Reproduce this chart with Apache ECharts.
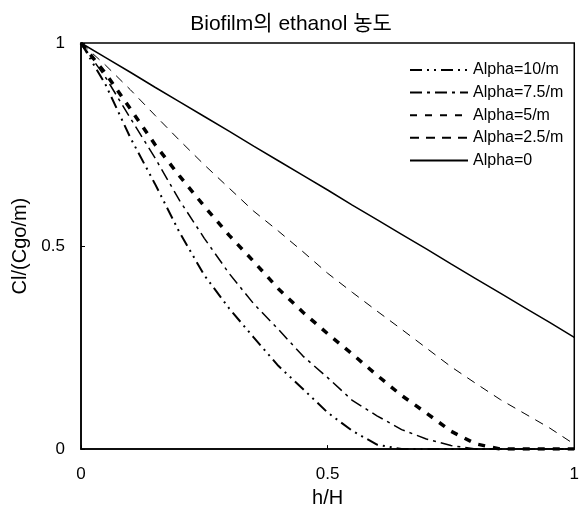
<!DOCTYPE html>
<html lang="ko">
<head>
    <meta charset="utf-8"/>
    <title>Biofilm의 ethanol 농도</title>
    <script src="https://cdn.jsdelivr.net/npm/echarts@6/dist/echarts.min.js"></script>
    <style>
        html, body { margin: 0; padding: 0; background: #fff; }
        #chart { width: 582px; height: 513px; }
    </style>
</head>
<body>
<div id="chart"></div>
<script>
    // 데이터 (h/H 위치별 Cl/(Cgo/m))
    var hValues = [0, 0.05, 0.1, 0.15, 0.2, 0.25, 0.3, 0.35, 0.4, 0.45, 0.5,
                   0.55, 0.6, 0.65, 0.7, 0.75, 0.8, 0.85, 0.9, 0.95, 1];
    var alpha10 = [1, 0.897, 0.767, 0.653, 0.533, 0.428, 0.347, 0.275, 0.205, 0.148, 0.090,
                   0.045, 0.011, 0, 0, 0, 0, 0, 0, 0, 0];
    var alpha75 = [1, 0.915, 0.815, 0.717, 0.612, 0.519, 0.433, 0.358, 0.295, 0.229, 0.176,
                   0.120, 0.082, 0.048, 0.025, 0.009, 0, 0, 0, 0, 0];
    var alpha5  = [1, 0.925, 0.838, 0.750, 0.672, 0.598, 0.527, 0.462, 0.395, 0.337, 0.284,
                   0.234, 0.182, 0.132, 0.089, 0.044, 0.013, 0, 0, 0, 0];
    var alpha25 = [1, 0.945, 0.885, 0.822, 0.760, 0.700, 0.643, 0.586, 0.537, 0.486, 0.433,
                   0.386, 0.340, 0.295, 0.249, 0.203, 0.162, 0.122, 0.087, 0.052, 0.012];
    var alpha0  = [1, 0.964, 0.928, 0.891, 0.855, 0.819, 0.783, 0.746, 0.710, 0.674, 0.638,
                   0.601, 0.565, 0.529, 0.493, 0.456, 0.420, 0.384, 0.348, 0.312, 0.275];
    var seriesNames = ['Alpha=10/m', 'Alpha=7.5/m', 'Alpha=5/m', 'Alpha=2.5/m', 'Alpha=0'];
    var tickLabels = ['0', '0.5', '1'];

    var font = "'Liberation Sans', 'Noto Sans CJK KR', sans-serif";

    var pairs = function (ys) {
        var out = [];
        for (var i = 0; i < hValues.length; i++) {
            out.push([hValues[i], ys[i]]);
        }
        return out;
    };

    var makeSeries = function (name, ys, width, dash) {
        return {
            name: name,
            type: 'line',
            data: pairs(ys),
            symbol: 'none',
            color: '#000',
            itemStyle: { color: '#000' },
            lineStyle: { color: '#000', width: width, type: dash }
        };
    };

    var tickText = function (v) {
        if (Math.abs(v) < 1e-9) return tickLabels[0];
        if (Math.abs(v - 0.5) < 1e-9) return tickLabels[1];
        return tickLabels[2];
    };

    var chart = echarts.init(document.getElementById('chart'));
    var option = {
        backgroundColor: '#fff',
        animation: false,
        title: {
            text: 'Biofilm의 ethanol 농도',
            left: 'center',
            top: 9,
            textStyle: { fontFamily: font, fontSize: 21, fontWeight: 'normal', color: '#000' }
        },
        legend: {
            orient: 'vertical',
            left: 404,
            top: 57,
            itemWidth: 58,
            itemHeight: 14,
            itemGap: 6.6,
            itemStyle: { opacity: 0 },
            textStyle: { fontFamily: font, fontSize: 16, color: '#000' },
            data: seriesNames
        },
        grid: {
            left: 81, right: 2, top: 43, bottom: 61,
            show: true,
            borderColor: '#000',
            borderWidth: 1.5
        },
        xAxis: {
            type: 'value',
            min: 0, max: 1, interval: 0.5,
            name: 'h/H',
            nameLocation: 'middle',
            nameGap: 35,
            nameTextStyle: { fontFamily: font, fontSize: 20, color: '#000' },
            axisLine: { lineStyle: { color: '#000', width: 1.5 } },
            axisTick: { inside: true, length: 4, lineStyle: { color: '#000' } },
            splitLine: { show: false },
            axisLabel: { margin: 17, fontFamily: font, fontSize: 17, color: '#000', formatter: tickText }
        },
        yAxis: {
            type: 'value',
            min: 0, max: 1, interval: 0.5,
            name: 'Cl/(Cgo/m)',
            nameLocation: 'middle',
            nameGap: 51,
            nameTextStyle: { fontFamily: font, fontSize: 20, color: '#000' },
            axisLine: { show: true, lineStyle: { color: '#000', width: 1.5 } },
            axisTick: { show: true, inside: true, length: 4, lineStyle: { color: '#000' } },
            splitLine: { show: false },
            axisLabel: { margin: 16, fontFamily: font, fontSize: 17, color: '#000', formatter: tickText }
        },
        series: [
            makeSeries(seriesNames[0], alpha10, 2, [12, 5, 2, 5, 2, 5]),
            makeSeries(seriesNames[1], alpha75, 1.5, [12, 5, 3, 5]),
            makeSeries(seriesNames[2], alpha5, 3.5, [7, 8]),
            makeSeries(seriesNames[3], alpha25, 1, [9, 7]),
            makeSeries(seriesNames[4], alpha0, 1.5, 'solid')
        ]
    };
    chart.setOption(option);
</script>
</body>
</html>
